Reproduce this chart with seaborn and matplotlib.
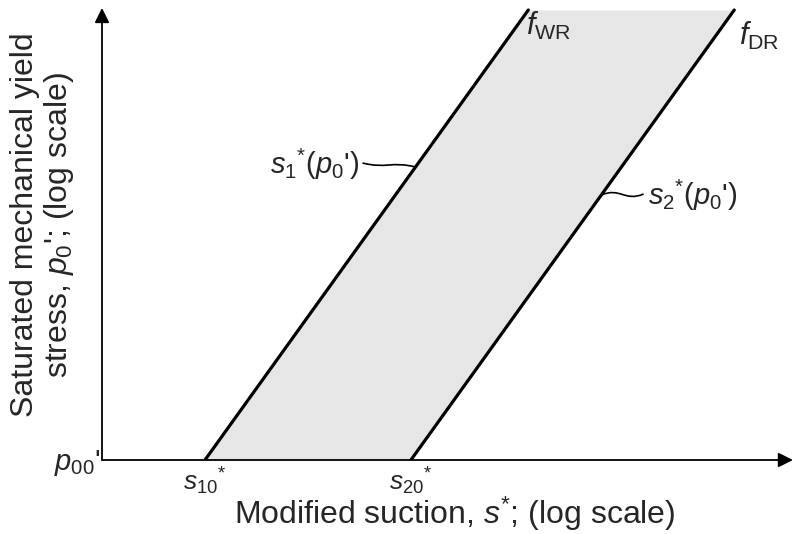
import numpy as np
import pandas as pd
import matplotlib
matplotlib.use("Agg")
import matplotlib.pyplot as plt
from matplotlib.path import Path
from matplotlib.patches import PathPatch
import seaborn as sns

# Yield curves in (log s*, log p0') space, schematic units
p_levels = [0.0, 4.5]          # p00' at the origin, top of the drawn curves
wr_suction = [1.0, 4.14]       # wetting-retention curve f_WR (starts at s10*)
dr_suction = [3.0, 6.14]       # drying-retention curve f_DR (starts at s20*)
curve_names = ["WR", "DR"]

s_ticks = [1.0, 3.0]
s_tick_labels = [r"$s_{10}{}^{*}$", r"$s_{20}{}^{*}$"]
p_tick_label = r"$p_{00}$'"

x_label = r"Modified suction, $s^{*}$; (log scale)"
y_label = "Saturated mechanical yield\n" + r"stress, $p_0$'; (log scale)"

sns.set_theme(style="white")
plt.rcParams["font.family"] = ["Liberation Sans", "DejaVu Sans"]
plt.rcParams["mathtext.fontset"] = "custom"
plt.rcParams["mathtext.rm"] = "Liberation Sans"
plt.rcParams["mathtext.it"] = "Liberation Sans:italic"
plt.rcParams["mathtext.bf"] = "Liberation Sans:bold"

df = pd.DataFrame({
    "s": wr_suction + dr_suction,
    "p": p_levels + p_levels,
    "curve": [curve_names[0]] * 2 + [curve_names[1]] * 2,
})

fig = plt.figure(figsize=(7.95, 5.34), dpi=100)
ax = fig.add_axes([102 / 795, 74 / 534, 693 / 795, 460 / 534])
ax.set_xlim(0, 6.73)
ax.set_ylim(0, 4.6)

# shaded band between the two retention curves
ax.fill_betweenx(p_levels, wr_suction, dr_suction, color="#e6e6e6", lw=0, zorder=1)

sns.lineplot(data=df, x="s", y="p", hue="curve", palette=["black", "black"],
             linewidth=2.3, legend=False, ax=ax, zorder=3, sort=False,
             estimator=None)

for side in ax.spines.values():
    side.set_visible(False)
ax.set_xticks([])
ax.set_yticks([])
ax.set_xlabel("")
ax.set_ylabel("")

# axes drawn as arrows
arrow = dict(arrowstyle="-|>", lw=1.3, color="black", mutation_scale=22,
             shrinkA=0, shrinkB=0)
ax.annotate("", xy=(6.71, 0), xytext=(0, 0), arrowprops=arrow, zorder=4)
ax.annotate("", xy=(0, 4.52), xytext=(0, 0), arrowprops=arrow, zorder=4)

# tick-like labels at the origin and on the suction axis
ax.text(-0.02, -0.03, p_tick_label, ha="right", va="center", fontsize=21)
for s, lab in zip(s_ticks, s_tick_labels):
    ax.text(s, -0.06, lab, ha="center", va="top", fontsize=19)

# curve names
ax.text(4.12, 4.25, r"$f_{\mathrm{WR}}$", ha="left", va="baseline", fontsize=22)
ax.text(6.19, 4.15, r"$f_{\mathrm{DR}}$", ha="left", va="baseline", fontsize=22)


def wavy(ax, start, end, h):
    (x0, y0), (x1, y1) = start, end
    dx = x1 - x0
    verts = [(x0, y0), (x0 + dx * 0.45, y0 - h), (x0 + dx * 0.55, y1 + h), (x1, y1)]
    codes = [Path.MOVETO, Path.CURVE4, Path.CURVE4, Path.CURVE4]
    ax.add_patch(PathPatch(Path(verts, codes), fill=False, lw=1.2,
                           color="black", zorder=4))


slope = (wr_suction[1] - wr_suction[0]) / (p_levels[1] - p_levels[0])

# s1*(p0') on the wetting curve
p1 = 2.93
ax.text(2.50, 2.96, r"$s_1{}^{*}$($p_0$')", ha="right", va="center", fontsize=21)
wavy(ax, (2.53, 2.97), (wr_suction[0] + p1 * slope, p1), 0.06)

# s2*(p0') on the drying curve
p2 = 2.65
ax.text(5.30, 2.65, r"$s_2{}^{*}$($p_0$')", ha="left", va="center", fontsize=21)
wavy(ax, (dr_suction[0] + p2 * slope, p2), (5.26, 2.66), -0.08)

fig.text(455 / 795, 1 - 514 / 534, x_label, ha="center", va="center", fontsize=23)
fig.text(43 / 795, 1 - 225 / 534, y_label, ha="center", va="center",
         rotation=90, fontsize=23, multialignment="center", linespacing=1.1)

fig.savefig("out.png", dpi=100)
